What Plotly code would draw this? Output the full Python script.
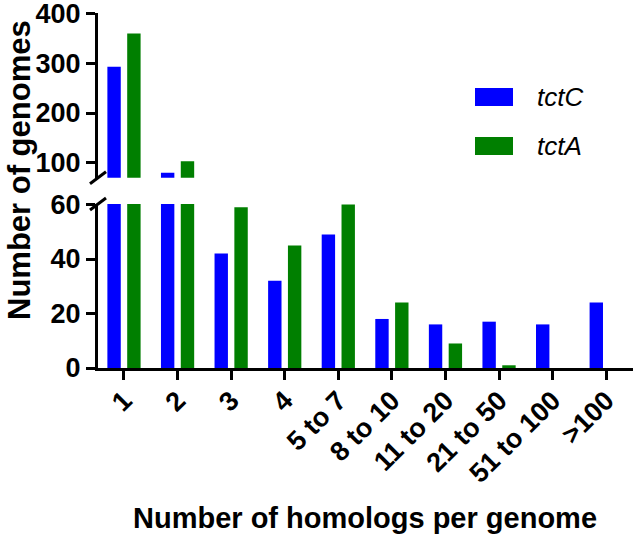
import plotly.graph_objects as go

categories = ["1", "2", "3", "4", "5 to 7", "8 to 10", "11 to 20", "21 to 50", "51 to 100", ">100"]
tctC = [293, 80, 42, 32, 49, 18, 16, 17, 16, 24]
tctA = [360, 103, 59, 45, 60, 24, 9, 1, 0, 0]
lower_ticks = [0, 20, 40, 60]
upper_ticks = [100, 200, 300, 400]

BLUE = "#0000FF"
GREEN = "#007F00"
FONT = "Arial, Liberation Sans, sans-serif"

W, H = 638, 539
ML, MR, MT, MB = 98, 5, 13, 171

x = list(range(len(categories)))
fig = go.Figure()
for yax in ["y", "y2"]:
    fig.add_trace(go.Bar(x=x, y=tctC, name="tctC", marker=dict(color=BLUE, line_width=0),
                         width=0.25, offset=-0.31, xaxis="x", yaxis=yax, showlegend=False))
    fig.add_trace(go.Bar(x=x, y=tctA, name="tctA", marker=dict(color=GREEN, line_width=0),
                         width=0.25, offset=0.06, xaxis="x", yaxis=yax, showlegend=False))

tickfont = dict(family=FONT, size=27, color="black", weight="bold")
axis_common = dict(showline=True, linecolor="black", linewidth=3, ticks="outside",
                   ticklen=9, tickwidth=3, tickcolor="black", showgrid=False,
                   zeroline=False, tickfont=tickfont, automargin=False,
                   ticklabeloverflow="allow")

lower_top = 0.462
upper_bot = 0.536

fig.update_layout(
    width=W, height=H,
    margin=dict(l=ML, r=MR, t=MT, b=MB, autoexpand=False),
    paper_bgcolor="white", plot_bgcolor="white",
    barmode="overlay",
    xaxis=dict(**axis_common, range=[-0.485, 9.5], tickvals=x, ticktext=categories,
               tickangle=-45, anchor="y", ticklabelstandoff=-6),
    yaxis=dict(**axis_common, domain=[0, lower_top], range=[0, 60.2], tickvals=lower_ticks,
               anchor="x"),
    yaxis2=dict(**axis_common, domain=[upper_bot, 1], range=[70, 401], tickvals=upper_ticks,
                anchor="x"),
)

def px_x(p):
    return (p - ML) / (W - ML - MR)

def px_y(p):
    return (H - MB - p) / (H - MT - MB)

# axis titles
fig.add_annotation(text="Number of homologs per genome", xref="paper", yref="paper",
                   x=px_x(365), y=px_y(518), xanchor="center", yanchor="middle",
                   showarrow=False,
                   font=dict(family=FONT, size=29, color="black", weight="bold"))
fig.add_annotation(text="Number of genomes", xref="paper", yref="paper",
                   x=px_x(19), y=px_y(170), xanchor="center", yanchor="middle",
                   textangle=-90, showarrow=False,
                   font=dict(family=FONT, size=31, color="black", weight="bold"))

# axis break marks
for ya in [lower_top, upper_bot]:
    fig.add_shape(type="line", xref="paper", yref="paper", xsizemode="pixel", ysizemode="pixel",
                  xanchor=0, yanchor=ya, x0=-8, x1=8, y0=-6, y1=6,
                  line=dict(color="black", width=3))

# legend (drawn manually to match the wide swatches)
legend_items = [("tctC", BLUE, 97), ("tctA", GREEN, 146)]
for name, col, yp in legend_items:
    fig.add_shape(type="rect", xref="paper", yref="paper", xsizemode="pixel", ysizemode="pixel",
                  xanchor=px_x(475), yanchor=px_y(yp), x0=0, x1=38, y0=-9, y1=9,
                  fillcolor=col, line=dict(width=0))
    fig.add_annotation(text=f"<i>{name}</i>", xref="paper", yref="paper", x=px_x(535), y=px_y(yp),
                       xanchor="left", yanchor="middle", showarrow=False,
                       font=dict(family=FONT, size=26, color="black"))

fig.write_html("out.html", config={"displayModeBar": False},
               post_script="document.body.style.margin='0';document.body.style.overflow='hidden';")
